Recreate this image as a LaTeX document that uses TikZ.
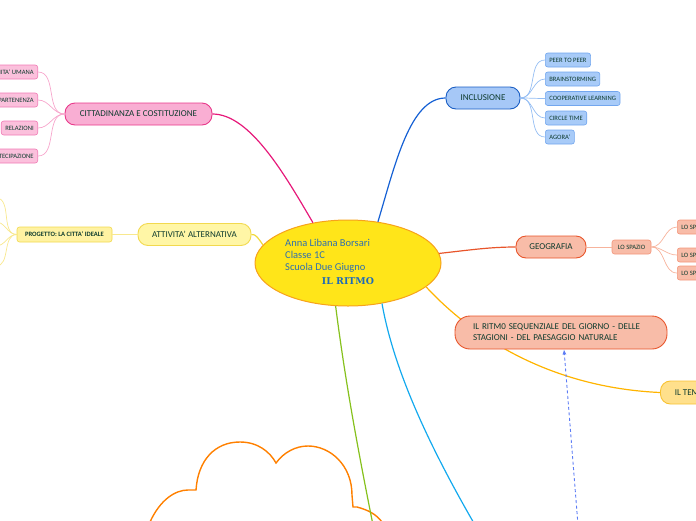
\documentclass[tikz,border=0pt]{standalone}
\usepackage{fontspec}
\setmainfont{Carlito}
\newfontfamily\titlefont{DejaVu Serif}
\usetikzlibrary{shapes.geometric,arrows.meta}
\definecolor{tdark}{HTML}{0E3B2E}
\definecolor{ctext}{HTML}{2F6FAE}
\definecolor{ttl}{HTML}{1E6BB8}
\definecolor{ellf}{HTML}{FFE519}
\definecolor{ellb}{HTML}{F7A21B}
\definecolor{pinkf}{HTML}{F9AED3}
\definecolor{pinkb}{HTML}{E8388A}
\definecolor{pinkcon}{HTML}{E6197A}
\definecolor{pinkl}{HTML}{FBC0DC}
\definecolor{pinkc}{HTML}{F07BB5}
\definecolor{pinkline}{HTML}{F7A6CC}
\definecolor{yelf}{HTML}{FFF6A6}
\definecolor{yelb}{HTML}{F2D94E}
\definecolor{yelcon}{HTML}{F0D83A}
\definecolor{yell}{HTML}{FFF2A2}
\definecolor{yelline}{HTML}{F8E88E}
\definecolor{bluef}{HTML}{A6C8F7}
\definecolor{blueb}{HTML}{1A5EC4}
\definecolor{bluecon}{HTML}{1560D4}
\definecolor{bluel}{HTML}{A8CBF8}
\definecolor{bluec}{HTML}{72A6EE}
\definecolor{blueline}{HTML}{94BDF3}
\definecolor{redf}{HTML}{F8BCA8}
\definecolor{redb}{HTML}{E8552B}
\definecolor{redcon}{HTML}{E8552B}
\definecolor{redc}{HTML}{F3957A}
\definecolor{redline}{HTML}{F7B39C}
\definecolor{ambcon}{HTML}{FFB400}
\definecolor{ambf}{HTML}{FFE08C}
\definecolor{ambb}{HTML}{F8C232}
\definecolor{greencon}{HTML}{86C11D}
\definecolor{cyancon}{HTML}{13A9EE}
\definecolor{cloudc}{HTML}{FF8000}
\definecolor{dashc}{HTML}{5B7BF5}
\tikzset{
  topic/.style={draw, line width=0.9pt, rounded corners=10pt, minimum height=22pt,
    inner sep=0pt, font=\fontsize{9}{11}\selectfont, text=tdark},
  subbox/.style={draw, line width=0.6pt, rounded corners=2.5pt, minimum height=14pt,
    inner ysep=0pt, inner xsep=4pt, font=\fontsize{6.6}{8}\selectfont, text=tdark},
  conn/.style={line width=1.2pt},
  thinline/.style={line width=0.7pt},
}
\begin{document}
\begin{tikzpicture}[x=1pt,y=-1pt]
\useasboundingbox (0,0) rectangle (696,520);
\clip (0,0) rectangle (696,520);

% cloud
\draw[cloudc, line width=1.4pt, line join=miter]
  (150,522) .. controls (160,500) and (175,490) .. (188,490) -- (196,490)
  .. controls (198,460) and (215,442) .. (240,442)
  .. controls (258,442) and (270,452) .. (276,463)
  .. controls (284,452) and (296,446) .. (308,446)
  .. controls (330,446) and (352,465) .. (352,495) -- (353,507) -- (357,507)
  .. controls (368,510) and (376,514) .. (382,522);

% central
\node[ellipse, draw=ellb, fill=ellf, line width=1pt, minimum width=186pt, minimum height=86pt, inner sep=0pt] (c) at (348,263) {};

% topics
\node[topic, fill=pinkf, draw=pinkb, minimum width=147pt] (cit) at (138.5,114) {CITTADINANZA E COSTITUZIONE};
\node[topic, fill=yelf, draw=yelb, minimum width=113pt] (att) at (194.5,234.5) {ATTIVITA' ALTERNATIVA};
\node[topic, fill=bluef, draw=blueb, minimum width=74pt] (inc) at (483,98) {INCLUSIONE};
\node[topic, fill=redf, draw=redb, minimum width=70pt] (geo) at (551,247) {GEOGRAFIA};
\node[topic, fill=ambf, draw=ambb, minimum width=64pt, minimum height=23pt, anchor=west] (tempo) at (660,392.5) {IL TEMPO};

% pink children
\node[subbox, fill=pinkl, draw=pinkc, anchor=east] (p1) at (38,72) {DIGNITA' UMANA};
\node[subbox, fill=pinkl, draw=pinkc, anchor=east] (p2) at (38,100) {APPARTENENZA};
\node[subbox, fill=pinkl, draw=pinkc, anchor=east] (p3) at (38,128) {RELAZIONI};
\node[subbox, fill=pinkl, draw=pinkc, anchor=east] (p4) at (38,156) {PARTECIPAZIONE};
\foreach \n in {p1,p2,p3,p4}
  \draw[pinkline, thinline] (\n.east) to[out=0, in=180] (cit.west);

% yellow children
\node[subbox, fill=yell, draw=yelb, minimum width=95pt, minimum height=15pt, font=\fontsize{6.6}{8}\selectfont\bfseries] (prog) at (64.5,234.5) {PROGETTO: LA CITTA' IDEALE};
\draw[yelline, line width=1pt] (prog.east) -- (att.west);
\coordinate (q1) at (-4,198);
\coordinate (q2) at (-4,222);
\coordinate (q3) at (-4,246);
\coordinate (q4) at (-4,266);
\foreach \n in {q1,q2,q3,q4}
  \draw[yelline, thinline] (prog.west) to[out=180, in=0] (\n);

% blue children
\node[subbox, fill=bluel, draw=bluec, anchor=west] (b1) at (545,60) {PEER TO PEER};
\node[subbox, fill=bluel, draw=bluec, anchor=west] (b2) at (545,79) {BRAINSTORMING};
\node[subbox, fill=bluel, draw=bluec, anchor=west] (b3) at (545,98.5) {COOPERATIVE LEARNING};
\node[subbox, fill=bluel, draw=bluec, anchor=west] (b4) at (545,118) {CIRCLE TIME};
\node[subbox, fill=bluel, draw=bluec, anchor=west] (b5) at (545,137) {AGORA'};
\foreach \n in {b1,b2,b3,b4,b5}
  \draw[blueline, thinline] (inc.east) to[out=0, in=180] (\n.west);

% geografia children
\node[subbox, fill=redf, draw=redc, minimum width=39pt, inner xsep=0pt] (spa) at (631.5,247) {LO SPAZIO};
\draw[redline, line width=1pt] (geo.east) -- (spa.west);
\node[subbox, fill=redf, draw=redc, anchor=west] (s1) at (677,227) {LO SPAZIO VISSUTO};
\node[subbox, fill=redf, draw=redc, anchor=west] (s2) at (677,255) {LO SPAZIO PERCEPITO};
\node[subbox, fill=redf, draw=redc, anchor=west] (s3) at (677,273) {LO SPAZIO RAPPRESENTATO};
\foreach \n in {s1,s2,s3}
  \draw[redline, thinline] (spa.east) to[out=0, in=180] (\n.west);

% main connectors
\draw[pinkcon, conn] (cit.east) .. controls (250,114) and (285,175) .. (c.131);
\draw[bluecon, conn] (c.54) .. controls (395,165) and (410,98) .. (inc.west);
\draw[yelcon, conn] (att.east) .. controls (256,234) and (258,238) .. (c.168);
\draw[redcon, conn] (c.6) .. controls (470,250) and (490,247) .. (geo.west);
\coordinate (gend) at (373,525);
\coordinate (cend) at (475,525);
\draw[greencon, conn] (c.-106) .. controls (345,380) and (358,450) .. (gend);
\draw[cyancon, conn] (c.-50) .. controls (392,360) and (420,430) .. (cend);
\draw[ambcon, conn] (c.-17) .. controls (480,345) and (560,388) .. (tempo.west);

% floating topic over the amber connector
\node[topic, fill=redf, draw=redb, minimum width=212pt, minimum height=33pt, rounded corners=15pt,
  text width=176pt, align=left] (rit) at (561,332.5) {IL RITM0 SEQUENZIALE DEL GIORNO - DELLE\\STAGIONI - DEL PAESAGGIO NATURALE};

% dashed link
\coordinate (dstart) at (578,525);
\draw[dashc, line width=0.9pt, dash pattern=on 3pt off 2.5pt, -{Latex[length=5pt,width=4pt]}] (dstart) -- ([xshift=3pt]rit.south);

% central text
\node[anchor=west, align=left, text=ctext, font=\fontsize{10.5}{12}\selectfont, inner sep=0pt] (ct) at (285,256) {Anna Libana Borsari\\Classe 1C\\Scuola Due Giugno};
\node[text=ttl, font=\titlefont\bfseries\fontsize{9.4}{11}\selectfont, inner sep=0pt] (title) at (348,281) {IL RITMO};
\end{tikzpicture}
\end{document}
